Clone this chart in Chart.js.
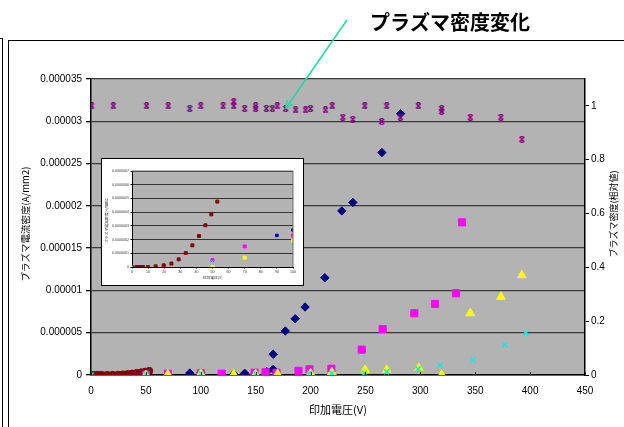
<!DOCTYPE html>
<html>
<head>
<meta charset="utf-8">
<script src="https://cdn.jsdelivr.net/npm/chart.js@4.4.1/dist/chart.umd.min.js"></script>
<style>
  html, body { margin: 0; padding: 0; background: #fff; }
  #wrap { position: relative; width: 624px; height: 427px; overflow: hidden; background: #fff; }
  .frame { position: absolute; border: 1.5px solid #000; }
  #f1 { left: -20px; top: 38px; width: 21px; height: 500px; }
  #f2 { left: 8px; top: 40px; width: 700px; height: 500px; }
  #main { position: absolute; left: 0; top: 0; }
  #insetBox { position: absolute; left: 101px; top: 158px; width: 201px; height: 126px;
              border: 1.5px solid #000; background: #fff; }
  #inset { display: block; }
</style>
</head>
<body>
<div id="wrap">
  <div class="frame" id="f1"></div>
  <div class="frame" id="f2"></div>
  <canvas id="main" width="624" height="427"></canvas>
  <div id="insetBox"><canvas id="inset" width="201" height="126"></canvas></div>
</div>
<script>
// ---- measured series: applied voltage (V) vs plasma current density (A/mm2) ----
const redX = [0, 2.7, 4.8, 6.8, 9.9, 14.7, 19.7, 24.5, 29, 33.4, 37.5, 41.6, 45.6, 49.3, 53];
const redY = [0, 0, 0, 0, 0, 5e-9, 1.2e-8, 2.5e-8, 5.6e-8, 1.02e-7, 1.58e-7, 2.26e-7, 3.04e-7, 3.84e-7, 4.77e-7];

const navyX = [90, 100, 120, 130, 140, 160, 166, 166, 177, 186, 195, 213, 228.5, 238.5, 265, 282];
const navyY = [2.3e-7, 2.7e-7, 0, 1e-7, 2e-7, 4e-7, 6.7e-7, 2.45e-6, 5.2e-6, 6.65e-6, 8.04e-6, 1.15e-5, 1.94e-5, 2.04e-5, 2.63e-5, 3.09e-5];

const magX = [50, 70, 100, 119, 149, 159, 169, 189, 199, 219, 246.6, 265.7, 294.5, 313.4, 332.5, 338];
const magY = [5e-8, 1.5e-7, 2.3e-7, 1.5e-7, 2.7e-7, 3.2e-7, 2.7e-7, 5e-7, 6.7e-7, 7.4e-7, 3.0e-6, 5.44e-6, 7.3e-6, 8.4e-6, 9.66e-6, 1.805e-5];

const yelX = [50, 70, 100, 130, 150, 170, 200, 219.4, 249.7, 269.4, 298.5, 319.4, 345.5, 373.4, 392.5];
const yelY = [0, 6.8e-8, 1.9e-7, 8e-8, 1e-7, 1.2e-7, 2e-7, 3.2e-7, 6e-7, 6e-7, 8.3e-7, 0, 7.3e-6, 9.25e-6, 1.18e-5];

const cyanX = [0, 50, 100, 150, 199, 219.4, 249, 269.4, 298, 318, 348, 377, 396];
const cyanY = [0, 4e-8, 1.7e-7, 1.5e-7, 2e-7, 2e-7, 2e-7, 3.9e-7, 7.1e-7, 1.15e-6, 1.77e-6, 3.58e-6, 4.93e-6];

// plasma density (relative value), right axis
const densX = [0.6, 20.3, 50.6, 70.3, 90, 100, 120.3, 130, 130, 140, 150, 150, 159.7, 165.2, 169.7, 177.3, 186.4, 195.5, 200, 213.6, 219.7, 229.4, 238.5, 249.4, 264.8, 269.4, 281.8, 298.2, 319.4, 319.4, 345.5, 373.4, 392.5];
const densY = [1.0, 1.0, 1.0, 1.0, 0.99, 1.0, 1.0, 1.015, 1.0, 0.99, 1.0, 0.99, 0.99, 0.99, 1.0, 0.99, 0.985, 0.985, 0.99, 0.985, 1.0, 0.958, 0.95, 1.0, 0.942, 1.0, 0.958, 1.0, 0.99, 0.98, 0.958, 0.958, 0.876];

// ---- axis ticks ----
const xTickValues = [0, 50, 100, 150, 200, 250, 300, 350, 400, 450];
const xTickLabels = ['0', '50', '100', '150', '200', '250', '300', '350', '400', '450'];
const yTickValues = [0, 0.000005, 0.00001, 0.000015, 0.00002, 0.000025, 0.00003, 0.000035];
const yTickLabels = ['0', '0.000005', '0.00001', '0.000015', '0.00002', '0.000025', '0.00003', '0.000035'];
const y2TickValues = [0, 0.2, 0.4, 0.6, 0.8, 1];
const y2TickLabels = ['0', '0.2', '0.4', '0.6', '0.8', '1'];

const insetXTickValues = [0, 10, 20, 30, 40, 50, 60, 70, 80, 90, 100];
const insetXTickLabels = ['0', '10', '20', '30', '40', '50', '60', '70', '80', '90', '100'];
const insetYTickValues = [0, 1e-7, 2e-7, 3e-7, 4e-7, 5e-7, 6e-7, 7e-7];
const insetYTickLabels = ['0', '0.0000001', '0.0000002', '0.0000003', '0.0000004', '0.0000005', '0.0000006', '0.0000007'];

// ---- text ----
const xTitle = '印加電圧(V)';
const yTitle = 'プラズマ電流密度(A/mm2)';
const y2Title = 'プラズマ密度(相対値)';
const noteText = 'プラズマ密度変化';

const pts = (xs, ys) => xs.map((x, i) => ({ x: x, y: ys[i] }));
const TICK_FONT = { family: 'Liberation Sans, Arial, sans-serif', size: 10 };
const JP = '"Noto Sans CJK JP", sans-serif';

// Excel-style "x with bars" marker
function barX(color) {
  const c = document.createElement('canvas');
  c.width = 7; c.height = 7;
  const g = c.getContext('2d');
  g.strokeStyle = color; g.lineWidth = 1.3;
  g.beginPath();
  g.moveTo(1, 1); g.lineTo(6, 6);
  g.moveTo(6, 1); g.lineTo(1, 6);
  g.moveTo(2, 0.7); g.lineTo(5, 0.7);
  g.moveTo(2, 6.3); g.lineTo(5, 6.3);
  g.stroke();
  return c;
}

const plotBg = {
  id: 'plotBg',
  beforeDraw(chart) {
    const { ctx, chartArea: a } = chart;
    ctx.save();
    ctx.fillStyle = '#b3b3b3';
    ctx.fillRect(a.left, a.top, a.right - a.left, a.bottom - a.top);
    ctx.restore();
  }
};

const mainDeco = {
  id: 'mainDeco',
  afterDraw(chart) {
    const { ctx, chartArea: a, scales } = chart;
    ctx.save();
    // small inside tick marks on the voltage axis
    ctx.strokeStyle = '#222'; ctx.lineWidth = 1;
    xTickValues.forEach(v => {
      const px = Math.round(scales.x.getPixelForValue(v)) + 0.5;
      ctx.beginPath(); ctx.moveTo(px, a.bottom); ctx.lineTo(px, a.bottom - 3); ctx.stroke();
    });
    ctx.fillStyle = '#000';
    ctx.textAlign = 'center'; ctx.textBaseline = 'middle';
    // x title
    ctx.font = '11px ' + JP;
    ctx.fillText(xTitle, (a.left + a.right) / 2, 410);
    // left title
    ctx.save();
    ctx.translate(25, 224); ctx.rotate(-Math.PI / 2);
    ctx.font = '9.5px ' + JP;
    ctx.fillText(yTitle, 0, 0);
    ctx.restore();
    // right title
    ctx.save();
    ctx.translate(614, 214); ctx.rotate(-Math.PI / 2);
    ctx.font = '9px ' + JP;
    ctx.fillText(y2Title, 0, 0);
    ctx.restore();
    // callout
    ctx.font = 'bold 20px ' + JP;
    ctx.fillText(noteText, 450, 22);
    const x0 = 347, y0 = 20, x1 = 286, y1 = 108;
    ctx.strokeStyle = '#22d8a2'; ctx.lineWidth = 1.5;
    ctx.beginPath(); ctx.moveTo(x0, y0); ctx.lineTo(x1, y1); ctx.stroke();
    const ang = Math.atan2(y1 - y0, x1 - x0), L = 8, w = 0.45;
    ctx.beginPath();
    ctx.moveTo(x1 - L * Math.cos(ang - w), y1 - L * Math.sin(ang - w));
    ctx.lineTo(x1, y1);
    ctx.lineTo(x1 - L * Math.cos(ang + w), y1 - L * Math.sin(ang + w));
    ctx.stroke();
    ctx.restore();
  }
};

function seriesSet(inset) {
  const k = inset ? 0.42 : 1;
  return [
    { label: 'dens', data: pts(densX, densY), yAxisID: 'y2', order: 0,
      pointStyle: barX('#800080'), pointRadius: 3.5, borderColor: '#800080', backgroundColor: '#800080' },
    { label: 'cyan', data: pts(cyanX, cyanY), yAxisID: 'y', order: 1,
      pointStyle: 'crossRot', pointRadius: inset ? 1.8 : 3.6, pointBorderWidth: inset ? 0.8 : 1.5,
      borderColor: '#00f0f0', backgroundColor: '#00f0f0' },
    { label: 'yellow', data: pts(yelX, yelY), yAxisID: 'y', order: 2,
      pointStyle: inset ? 'rect' : 'triangle', pointRadius: 5 * k, pointBorderWidth: 1,
      borderColor: '#ffff00', backgroundColor: '#ffff00' },
    { label: 'magenta', data: pts(magX, magY), yAxisID: 'y', order: 3,
      pointStyle: 'rect', pointRadius: 5 * k, pointBorderWidth: 1,
      borderColor: '#ff00ff', backgroundColor: '#ff00ff' },
    { label: 'navy', data: pts(navyX, navyY), yAxisID: 'y', order: 4,
      pointStyle: inset ? 'rect' : 'rectRot', pointRadius: 4.2 * k, pointBorderWidth: 1,
      borderColor: '#000080', backgroundColor: '#000080' },
    { label: 'red', data: pts(redX, redY), yAxisID: 'y', order: 5,
      pointStyle: inset ? 'rect' : 'circle', pointRadius: inset ? 2.1 : 3.6, pointBorderWidth: 1,
      borderColor: '#800000', backgroundColor: '#800000' }
  ].filter(d => !(inset && d.yAxisID === 'y2'))
   .map(d => Object.assign(d, { showLine: false, pointHoverRadius: d.pointRadius }));
}

// ---- main chart ----
new Chart(document.getElementById('main'), {
  type: 'scatter',
  data: { datasets: seriesSet(false) },
  options: {
    responsive: false, animation: false, devicePixelRatio: 1,
    layout: { padding: { top: 79, left: 0, right: 0, bottom: 0 } },
    plugins: { legend: { display: false }, tooltip: { enabled: false } },
    scales: {
      x: {
        type: 'linear', min: 0, max: 450,
        afterBuildTicks: s => { s.ticks = xTickValues.map(v => ({ value: v })); },
        afterFit: s => { s.height = 52; },
        grid: { display: false },
        border: { color: '#000', width: 1.5 },
        ticks: { padding: 2, color: '#000', font: TICK_FONT, maxRotation: 0,
                 callback: (v, i) => xTickLabels[i] }
      },
      y: {
        type: 'linear', position: 'left', min: 0, max: 0.000035,
        afterBuildTicks: s => { s.ticks = yTickValues.map(v => ({ value: v })); },
        afterFit: s => { s.width = 91; },
        grid: { color: '#3a3a3a', lineWidth: 1.3, tickLength: 5, tickColor: '#000' },
        border: { color: '#000', width: 1.5 },
        ticks: { padding: 4, color: '#000', font: TICK_FONT, callback: (v, i) => yTickLabels[i] }
      },
      y2: {
        type: 'linear', position: 'right', min: 0, max: 1.1,
        afterBuildTicks: s => { s.ticks = y2TickValues.map(v => ({ value: v })); },
        afterFit: s => { s.width = 39; },
        grid: { drawOnChartArea: false, tickLength: 4, color: '#000' },
        border: { color: '#000', width: 1.5 },
        ticks: { padding: 2, color: '#000', font: TICK_FONT, callback: (v, i) => y2TickLabels[i] }
      }
    }
  },
  plugins: [plotBg, mainDeco]
});

// ---- inset: low-voltage region ----
const INSET_FONT = { family: 'Liberation Sans, Arial, sans-serif', size: 3.6 };
const insetDeco = {
  id: 'insetDeco',
  afterDraw(chart) {
    const { ctx, chartArea: a } = chart;
    ctx.save();
    ctx.strokeStyle = '#6a6a6a'; ctx.lineWidth = 1;
    ctx.beginPath(); ctx.moveTo(a.left, a.top); ctx.lineTo(a.right, a.top); ctx.lineTo(a.right, a.bottom); ctx.stroke();
    ctx.fillStyle = '#333'; ctx.textAlign = 'center'; ctx.textBaseline = 'middle';
    ctx.font = '3.8px ' + JP;
    ctx.fillText(xTitle, (a.left + a.right) / 2, 119);
    ctx.translate(5, 61); ctx.rotate(-Math.PI / 2);
    ctx.fillText(yTitle, 0, 0);
    ctx.restore();
  }
};

new Chart(document.getElementById('inset'), {
  type: 'scatter',
  data: { datasets: seriesSet(true) },
  options: {
    responsive: false, animation: false, devicePixelRatio: 1,
    layout: { padding: { top: 12, right: 10, left: 0, bottom: 0 } },
    plugins: { legend: { display: false }, tooltip: { enabled: false } },
    scales: {
      x: {
        type: 'linear', min: 0, max: 100,
        afterBuildTicks: s => { s.ticks = insetXTickValues.map(v => ({ value: v })); },
        afterFit: s => { s.height = 18; },
        grid: { drawOnChartArea: false, tickLength: 1.5, color: '#000' },
        border: { color: '#000', width: 1 },
        ticks: { padding: 1.5, color: '#333', font: INSET_FONT, maxRotation: 0, autoSkip: false,
                 callback: (v, i) => insetXTickLabels[i] }
      },
      y: {
        type: 'linear', min: 0, max: 7e-7,
        afterBuildTicks: s => { s.ticks = insetYTickValues.map(v => ({ value: v })); },
        afterFit: s => { s.width = 30; },
        grid: { color: '#333', lineWidth: 1, tickLength: 1.5, tickColor: '#000' },
        border: { color: '#000', width: 1 },
        ticks: { padding: 1.5, color: '#333', font: INSET_FONT, autoSkip: false,
                 callback: (v, i) => insetYTickLabels[i] }
      }
    }
  },
  plugins: [plotBg, insetDeco]
});
</script>
</body>
</html>
